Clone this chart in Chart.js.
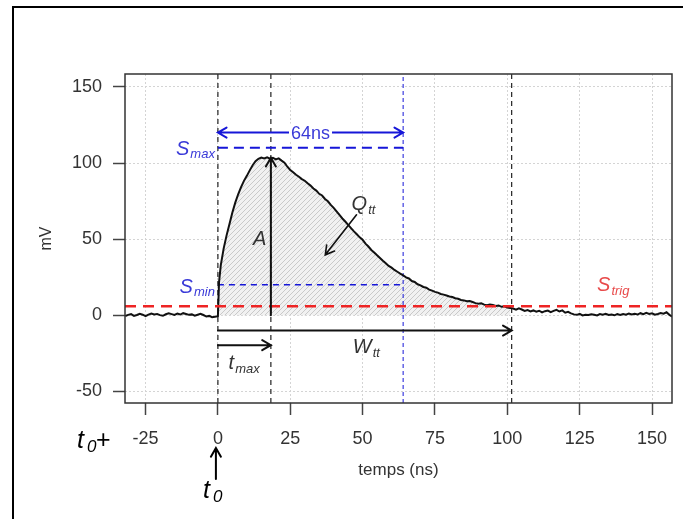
<!DOCTYPE html>
<html>
<head>
<meta charset="utf-8">
<script src="https://cdn.jsdelivr.net/npm/chart.js@4.4.0/dist/chart.umd.min.js"></script>
<style>
  body { margin: 0; background: #fff; }
  #wrap { position: relative; width: 683px; height: 519px; overflow: hidden; }
  #frame { position: absolute; left: 12px; top: 6px; width: 720px; height: 600px;
           border-left: 2px solid #000; border-top: 2px solid #000; pointer-events: none; }
</style>
</head>
<body>
<div id="wrap">
  <canvas id="chart" width="683" height="519"></canvas>
  <div id="frame"></div>
</div>
<script>
// signal samples (ns, mV)
const times = [
  -32, -31, -30, -29, -28, -27, -26, -25, -24, -23,
  -22, -21, -20, -19, -18, -17, -16, -15, -14, -13,
  -12, -11, -10, -9, -8, -7, -6, -5, -4, -3,
  -2, -1, 0, 0.4, 1, 2, 3, 4, 5, 6, 7,
  8, 9, 10, 11, 12, 13, 14, 15, 16, 17,
  18, 19, 20, 21, 22, 23, 24, 25, 26, 27,
  28, 29, 30, 31, 32, 33, 34, 35, 36, 37,
  38, 39, 40, 41, 42, 43, 44, 45, 46, 47,
  48, 49, 50, 51, 52, 53, 54, 55, 56, 57,
  58, 59, 60, 61, 62, 63, 64, 65, 66, 67,
  68, 69, 70, 71, 72, 73, 74, 75, 76, 77,
  78, 79, 80, 81, 82, 83, 84, 85, 86, 87,
  88, 89, 90, 91, 92, 93, 94, 95, 96, 97,
  98, 99, 100, 101, 102, 103, 104, 105, 106, 107,
  108, 109, 110, 111, 112, 113, 114, 115, 116, 117,
  118, 119, 120, 121, 122, 123, 124, 125, 126, 127,
  128, 129, 130, 131, 132, 133, 134, 135, 136, 137,
  138, 139, 140, 141, 142, 143, 144, 145, 146, 147,
  148, 149, 150, 151, 152, 153, 154, 155, 156, 157
];
const mv = [
  -0.5, 0.3, 0.8, -0.4, 0.2, 1.0, 0.4, -0.6, 0.5, 1.2,
  0.6, 0.9, 0.1, -0.3, 0.7, 1.3, 0.8, 0.2, 1.1, 0.5,
  1.4, 0.9, 0.3, 0.6, -0.2, 0.4, 1.0, 0.2, -0.8, -0.4,
  -1.2, -1.0, -0.6, 22, 33, 44, 52.5, 60, 67.5, 74, 79.5,
  84.2, 88.3, 91.6, 95.2, 98.6, 101.2, 102.8, 103.6, 103.1, 103.8,
  102.9, 103.5, 102.4, 103.1, 101.6, 100.3, 97.6, 95.5, 93.9, 92.3,
  91.0, 89.5, 88.4, 86.7, 85.2, 83.3, 81.9, 79.8, 78.7, 76.4,
  74.9, 72.5, 70.6, 68.2, 65.9, 63.6, 61.6, 59.4, 57.3, 55.1,
  53.2, 51.2, 49.6, 47.1, 45.2, 42.9, 41.3, 39.4, 37.7, 35.9,
  34.2, 32.4, 31.3, 29.8, 28.6, 27.4, 26.3, 24.9, 24.2, 22.5,
  21.9, 20.4, 19.7, 18.6, 18.1, 16.9, 16.2, 15.4, 14.9, 14.0,
  13.6, 13.0, 12.4, 12.0, 11.2, 10.9, 10.1, 9.8, 9.2, 9.4,
  8.7, 8.0, 7.6, 7.9, 7.0, 6.6, 7.1, 6.8, 6.2, 6.5,
  5.6, 5.9, 5.1, 4.8, 4.5, 3.7, 4.6, 3.8, 2.9, 3.4,
  2.6, 3.2, 2.4, 3.0, 1.9, 2.7, 3.1, 2.1, 2.9, 3.6,
  2.5, 3.2, 1.7, 2.3, 1.3, 0.6, 0.3, 0.9, -0.1, 0.4,
  0.2, 0.7, 0.3, -0.1, 0.8, 0.4, 1.0, 0.2, 0.5, 0.0,
  0.8, 0.3, 0.9, 0.4, 1.2, 0.6, 1.0, 0.5, 1.4, 0.8,
  1.6, 0.9, 1.3, 0.4, 0.9, 1.5, 1.1, 2.0, 0.3, -0.8
];

const xTicks = [-25, 0, 25, 50, 75, 100, 125, 150];
const yTicks = [-50, 0, 50, 100, 150];
const xRange = [-32.1, 156.9];
const yRange = [-57.6, 158.5];

// characteristic times (ns) and thresholds (mV)
const t0 = 0, tMax = 18.3, wEnd = 101.5, t64 = 64;
const peak = 103.5;
const sMax = 110, sMin = 20, sTrig = 6;
const y64 = 120, yW = -10, yTmax = -19.6;
const qArrow = [47.9, 66, 37.1, 39.7];

const FONT = '"Liberation Sans", Arial, sans-serif';
const BLUE = '#1616d8', BLUE_TXT = '#3a3ad8', RED = '#ee2424', RED_TXT = '#e84a4a', INK = '#333';

// [main, sub, x, y, align, colour] ; x/y in data units (anchor = baseline)
const labels = [
  ['A', '', 12.1, 46.4, 'left', INK],
  ['Q', 'tt', 46.2, 69.4, 'left', INK],
  ['W', 'tt', 46.6, -24.6, 'left', INK],
  ['t', 'max', 3.7, -35.2, 'left', INK],
  ['S', 'trig', 131, 16, 'left', RED_TXT]
];

const signal = times.map((t, i) => ({ x: t, y: mv[i] }));
const area = signal.filter(p => p.x >= t0 && p.x <= wEnd);
const vline = x => [{ x: x, y: yRange[0] }, { x: x, y: yRange[1] }];
const hline = (x1, x2, y) => [{ x: x1, y: y }, { x: x2, y: y }];

function hatch() {
  const c = document.createElement('canvas');
  c.width = 5; c.height = 5;
  const g = c.getContext('2d');
  g.fillStyle = '#f1f1f1';
  g.fillRect(0, 0, 5, 5);
  g.strokeStyle = '#c4c4c4';
  g.lineWidth = 0.9;
  g.beginPath();
  g.moveTo(0, 5); g.lineTo(5, 0);
  g.moveTo(-1, 1); g.lineTo(1, -1);
  g.moveTo(4, 6); g.lineTo(6, 4);
  g.stroke();
  return g.createPattern(c, 'repeat');
}

function arrow(ctx, x1, y1, x2, y2, both) {
  const len = 10, ang = Math.PI / 6;
  const a = Math.atan2(y2 - y1, x2 - x1);
  ctx.beginPath();
  ctx.moveTo(x1, y1); ctx.lineTo(x2, y2);
  ctx.moveTo(x2 - len * Math.cos(a - ang), y2 - len * Math.sin(a - ang));
  ctx.lineTo(x2, y2);
  ctx.lineTo(x2 - len * Math.cos(a + ang), y2 - len * Math.sin(a + ang));
  if (both) {
    ctx.moveTo(x1 + len * Math.cos(a - ang), y1 + len * Math.sin(a - ang));
    ctx.lineTo(x1, y1);
    ctx.lineTo(x1 + len * Math.cos(a + ang), y1 + len * Math.sin(a + ang));
  }
  ctx.stroke();
}

function subText(ctx, main, sub, x, y, align, color, size, subSize, drop) {
  ctx.font = 'italic ' + size + 'px ' + FONT;
  const w1 = ctx.measureText(main).width;
  ctx.font = 'italic ' + subSize + 'px ' + FONT;
  const w2 = sub ? ctx.measureText(sub).width : 0;
  const left = align === 'right' ? x - w1 - w2 - 1 : x;
  ctx.fillStyle = color;
  ctx.textAlign = 'left';
  ctx.textBaseline = 'alphabetic';
  ctx.font = 'italic ' + size + 'px ' + FONT;
  ctx.fillText(main, left, y);
  if (sub) {
    ctx.font = 'italic ' + subSize + 'px ' + FONT;
    ctx.fillText(sub, left + w1 + 1, y + drop);
  }
}

const annotations = {
  id: 'annotations',
  afterDatasetsDraw(chart) {
    const { ctx, chartArea: ca, scales: { x, y } } = chart;
    ctx.save();
    // plot box
    ctx.strokeStyle = '#333';
    ctx.lineWidth = 1.5;
    ctx.strokeRect(ca.left, ca.top, ca.right - ca.left, ca.bottom - ca.top);

    ctx.lineCap = 'round';
    // 64 ns double arrow
    ctx.strokeStyle = BLUE;
    ctx.lineWidth = 2;
    arrow(ctx, x.getPixelForValue(t0), y.getPixelForValue(y64), x.getPixelForValue(t64), y.getPixelForValue(y64), true);
    ctx.font = '18px ' + FONT;
    const cx = x.getPixelForValue((t0 + t64) / 2), cy = y.getPixelForValue(y64);
    const tw = ctx.measureText('64ns').width;
    ctx.fillStyle = '#fff';
    ctx.fillRect(cx - tw / 2 - 2, cy - 9, tw + 4, 18);
    ctx.fillStyle = BLUE_TXT;
    ctx.textAlign = 'center';
    ctx.textBaseline = 'middle';
    ctx.fillText('64ns', cx, cy + 1);

    // black arrows: A, W, tmax, Q
    ctx.strokeStyle = '#111';
    ctx.lineWidth = 2;
    arrow(ctx, x.getPixelForValue(tMax), y.getPixelForValue(0), x.getPixelForValue(tMax), y.getPixelForValue(peak));
    arrow(ctx, x.getPixelForValue(t0), y.getPixelForValue(yW), x.getPixelForValue(wEnd), y.getPixelForValue(yW));
    arrow(ctx, x.getPixelForValue(t0), y.getPixelForValue(yTmax), x.getPixelForValue(tMax), y.getPixelForValue(yTmax));
    ctx.lineWidth = 1.6;
    arrow(ctx, x.getPixelForValue(qArrow[0]), y.getPixelForValue(qArrow[1]), x.getPixelForValue(qArrow[2]), y.getPixelForValue(qArrow[3]));

    // threshold labels
    subText(ctx, 'S', 'max', x.getPixelForValue(t0) - 3, y.getPixelForValue(sMax) + 7, 'right', BLUE_TXT, 20, 13, 3);
    subText(ctx, 'S', 'min', x.getPixelForValue(t0) - 3, y.getPixelForValue(sMin) + 8, 'right', BLUE_TXT, 20, 13, 3);
    labels.forEach(l => {
      subText(ctx, l[0], l[1], x.getPixelForValue(l[2]), y.getPixelForValue(l[3]), l[4], l[5], 20, 13, 4);
    });

    // t0 marks below the axis
    const bx = x.getPixelForValue(t0) - 2;
    ctx.strokeStyle = '#000';
    ctx.lineWidth = 2;
    arrow(ctx, bx, ca.bottom + 76, bx, ca.bottom + 45);
    ctx.fillStyle = '#000';
    ctx.font = 'italic 25px ' + FONT;
    ctx.textAlign = 'left';
    ctx.textBaseline = 'alphabetic';
    ctx.fillText('t', bx - 13, ca.bottom + 95);
    ctx.font = 'italic 17px ' + FONT;
    ctx.fillText('0', bx - 3, ca.bottom + 99);
    ctx.font = 'italic 25px ' + FONT;
    ctx.fillText('t', ca.left - 48, ca.bottom + 45);
    ctx.font = 'italic 17px ' + FONT;
    ctx.fillText('0', ca.left - 38, ca.bottom + 49);
    ctx.font = '25px ' + FONT;
    ctx.fillText('+', ca.left - 29, ca.bottom + 45);
    ctx.restore();
  }
};

const axisFont = { family: FONT, size: 18 };

new Chart(document.getElementById('chart'), {
  type: 'line',
  data: {
    datasets: [
      { label: 'signal', data: signal, borderColor: '#111', borderWidth: 2, order: 1 },
      { label: 'Strig', data: hline(xRange[0], xRange[1], sTrig), borderColor: RED, borderWidth: 2.5, borderDash: [11, 7], order: 0 },
      { label: 'Smax', data: hline(t0, t64, sMax), borderColor: BLUE, borderWidth: 2, borderDash: [10, 6], order: 2 },
      { label: 'Smin', data: hline(t0, t64, sMin), borderColor: BLUE, borderWidth: 1.5, borderDash: [6, 5], order: 2 },
      { label: 't0', data: vline(t0), borderColor: '#222', borderWidth: 1.2, borderDash: [5, 4], order: 3 },
      { label: 'tmax', data: vline(tMax), borderColor: '#222', borderWidth: 1.2, borderDash: [5, 4], order: 3 },
      { label: 'W', data: vline(wEnd), borderColor: '#222', borderWidth: 1.2, borderDash: [5, 4], order: 3 },
      { label: '64ns', data: vline(t64), borderColor: BLUE, borderWidth: 1, borderDash: [4, 3], order: 3 },
      { label: 'Qtt', data: area, fill: { value: 0 }, backgroundColor: hatch(), borderColor: 'rgba(0,0,0,0)', borderWidth: 0, order: 10 }
    ]
  },
  options: {
    responsive: false,
    animation: false,
    events: [],
    layout: { padding: { left: 0, top: 74, right: 11, bottom: 0 } },
    elements: { point: { radius: 0 }, line: { tension: 0 } },
    plugins: { legend: { display: false }, tooltip: { enabled: false } },
    scales: {
      x: {
        type: 'linear',
        min: xRange[0],
        max: xRange[1],
        afterBuildTicks: s => { s.ticks = xTicks.map(v => ({ value: v })); },
        afterFit: s => { s.height = 116; },
        grid: { color: '#d4d4d4', lineWidth: 1, tickLength: 12, tickColor: '#444', tickWidth: 1.5 },
        border: { display: false, dash: [2, 2] },
        ticks: { color: INK, font: axisFont, padding: 13, maxRotation: 0, autoSkip: false },
        title: { display: true, text: 'temps (ns)', color: INK, font: { family: FONT, size: 17 }, padding: { top: 0, bottom: 38 } }
      },
      y: {
        min: yRange[0],
        max: yRange[1],
        afterBuildTicks: s => { s.ticks = yTicks.map(v => ({ value: v })); },
        afterFit: s => { s.width = 125; },
        grid: { color: '#d4d4d4', lineWidth: 1, tickLength: 12, tickColor: '#444', tickWidth: 1.5 },
        border: { display: false, dash: [2, 2] },
        ticks: { color: INK, font: axisFont, padding: 11 },
        title: { display: true, text: 'mV', color: INK, font: { family: FONT, size: 16 }, padding: { top: 37, bottom: 0 } }
      }
    }
  },
  plugins: [annotations]
});
</script>
</body>
</html>
